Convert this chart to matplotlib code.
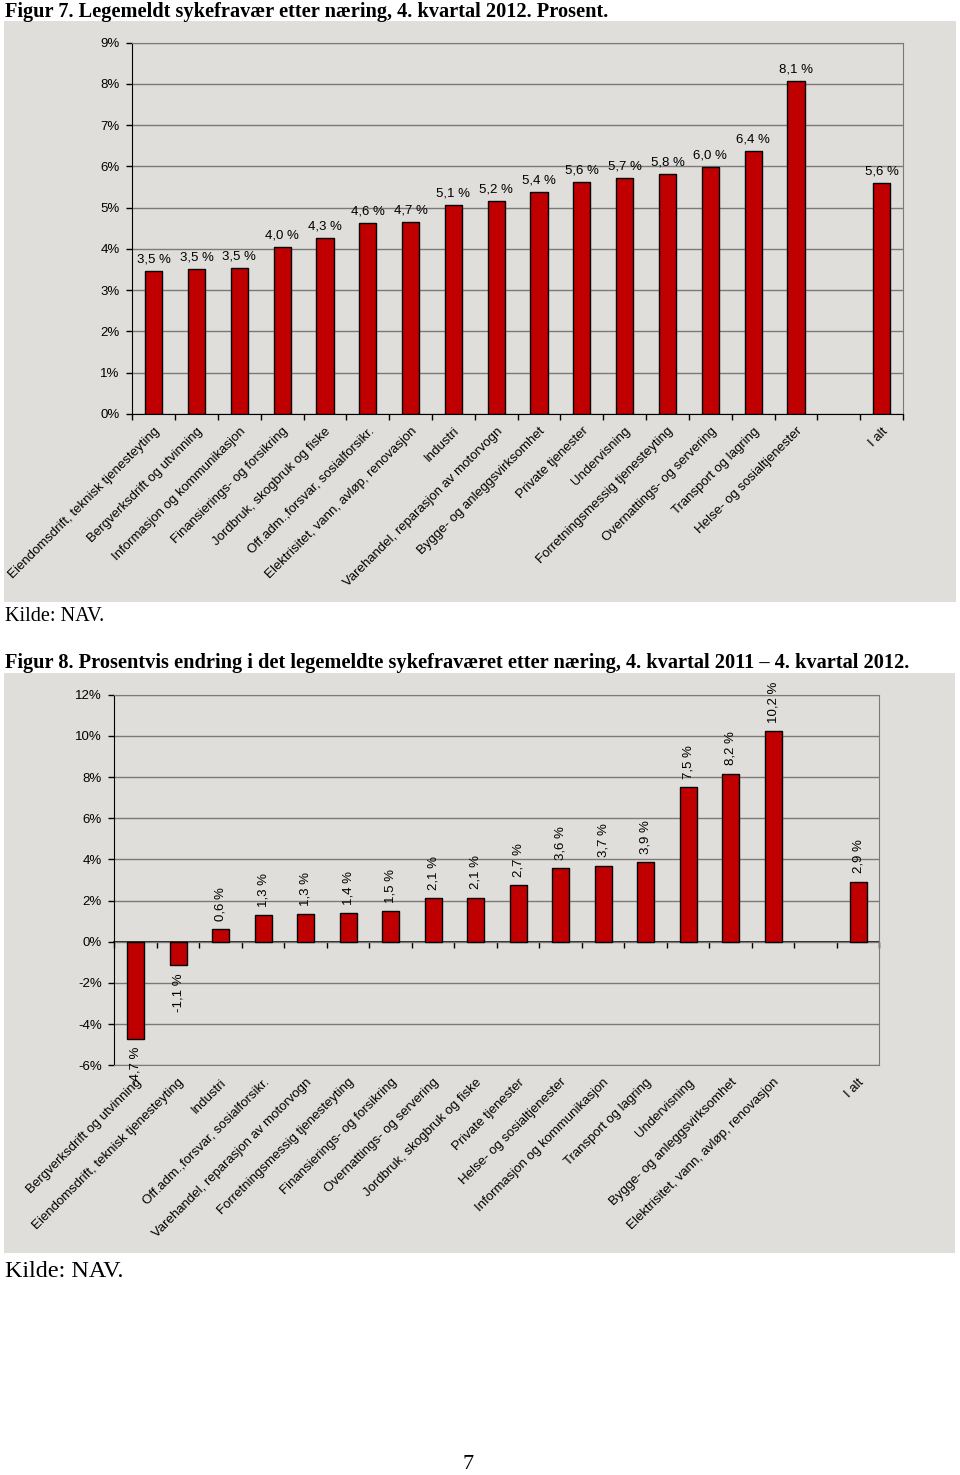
import numpy as np
import matplotlib
matplotlib.use('Agg')
import matplotlib.pyplot as plt
from matplotlib.patches import Rectangle
from matplotlib.ticker import FuncFormatter, MultipleLocator

#------------------------
# Data
#------------------------
# Figur 7: sick leave by industry, Q4 2012 (percent)
naering_7 = ["Eiendomsdrift, teknisk tjenesteyting", "Bergverksdrift og utvinning",
             "Informasjon og kommunikasjon", "Finansierings- og forsikring",
             "Jordbruk, skogbruk og fiske", "Off.adm.,forsvar, sosialforsikr.",
             "Elektrisitet, vann, avløp, renovasjon", "Industri",
             "Varehandel, reparasjon av motorvogn", "Bygge- og anleggsvirksomhet",
             "Private tjenester", "Undervisning", "Forretningsmessig tjenesteyting",
             "Overnattings- og servering", "Transport og lagring",
             "Helse- og sosialtjenester"]
fravaer_7 = [3.47, 3.52, 3.54, 4.04, 4.26, 4.64, 4.66, 5.06, 5.16, 5.39,
             5.63, 5.72, 5.81, 5.98, 6.38, 8.06]
total_7 = 5.59

# Figur 8: change in sick leave, Q4 2011 - Q4 2012 (percent)
naering_8 = ["Bergverksdrift og utvinning", "Eiendomsdrift, teknisk tjenesteyting",
             "Industri", "Off.adm.,forsvar, sosialforsikr.",
             "Varehandel, reparasjon av motorvogn", "Forretningsmessig tjenesteyting",
             "Finansierings- og forsikring", "Overnattings- og servering",
             "Jordbruk, skogbruk og fiske", "Private tjenester",
             "Helse- og sosialtjenester", "Informasjon og kommunikasjon",
             "Transport og lagring", "Undervisning", "Bygge- og anleggsvirksomhet",
             "Elektrisitet, vann, avløp, renovasjon"]
endring_8 = [-4.71, -1.12, 0.60, 1.28, 1.34, 1.38, 1.48, 2.11, 2.14, 2.74,
             3.58, 3.69, 3.86, 7.52, 8.16, 10.23]
total_8 = 2.92

total_label = "I alt"

#------------------------
# Style
#------------------------
plt.rcParams['font.family'] = ['Liberation Sans', 'DejaVu Sans']
bg = '#dfdeda'
red = '#c00000'
gridc = '#7a7a7a'
fs = 9.5
serif = ['Liberation Serif', 'DejaVu Serif']

W, H = 960, 1475
fig = plt.figure(figsize=(W / 100, H / 100), dpi=100)

def px_rect(x0, y0, x1, y1):
    # pixel box (top-left origin) -> figure fraction [left, bottom, width, height]
    return [x0 / W, 1 - y1 / H, (x1 - x0) / W, (y1 - y0) / H]

def fmt_pct(v):
    return f"{v:.1f}".replace('.', ',') + " %"

def draw_chart(ax, names, values, total, ymin, ymax, ystep, vertical_labels):
    n = len(names) + 2          # industries + empty slot + "I alt"
    pos = np.arange(len(names))
    pos_total = n - 1
    labels = names + ["", total_label]

    b1 = ax.bar(pos, values, width=0.4, color=red, edgecolor='black', linewidth=1, zorder=3)
    b2 = ax.bar([pos_total], [total], width=0.4, color=red, edgecolor='black', linewidth=1, zorder=3)

    rot = 90 if vertical_labels else 0
    for cont, vals in ((b1, values), (b2, [total])):
        ax.bar_label(cont, labels=[fmt_pct(v) for v in vals], padding=6 if vertical_labels else 4,
                     rotation=rot, fontsize=fs)

    ax.set_xlim(-0.5, n - 0.5)
    ax.set_ylim(ymin, ymax)
    ax.yaxis.set_major_locator(MultipleLocator(ystep))
    ax.yaxis.set_major_formatter(FuncFormatter(lambda v, p: f"{int(round(v))}%"))
    ax.tick_params(axis='y', length=4, width=1, labelsize=fs, pad=5)
    ax.yaxis.grid(True, color=gridc, linewidth=1)
    ax.set_axisbelow(True)

    ax.set_xticks(np.arange(n))
    ax.set_xticklabels(labels, rotation=45, ha='right', rotation_mode='anchor', fontsize=fs)
    ax.tick_params(axis='x', which='major', length=0, pad=8)

    ax.set_facecolor('none')
    ax.spines['left'].set_color('black')
    ax.spines['top'].set_color(gridc)
    ax.spines['right'].set_color(gridc)
    return n

#-------------
# Figur 7
#-------------
fig.add_artist(Rectangle((4 / W, 1 - 602 / H), 952 / W, 581 / H,
                         transform=fig.transFigure, facecolor=bg, edgecolor='none', zorder=0))
ax1 = fig.add_axes(px_rect(132.3, 42.7, 903, 414))
n1 = draw_chart(ax1, naering_7, fravaer_7, total_7, 0, 9, 1, vertical_labels=False)
ax1.set_xticks(np.arange(n1 + 1) - 0.5, minor=True)
ax1.tick_params(axis='x', which='minor', length=4, width=1, direction='out')
ax1.spines['bottom'].set_color('black')

fig.text(5 / W, 1 - 17 / H,
         "Figur 7. Legemeldt sykefravær etter næring, 4. kvartal 2012. Prosent.",
         family=serif, weight='bold', fontsize=14.7, va='baseline')
fig.text(5 / W, 1 - 621 / H, "Kilde: NAV.", family=serif, fontsize=14.6, va='baseline')

#-------------
# Figur 8
#-------------
fig.add_artist(Rectangle((4 / W, 1 - 1253 / H), 951 / W, 580 / H,
                         transform=fig.transFigure, facecolor=bg, edgecolor='none', zorder=0))
ax2 = fig.add_axes(px_rect(114.3, 694.7, 879.3, 1065.2))
n2 = draw_chart(ax2, naering_8, endring_8, total_8, -6, 12, 2, vertical_labels=True)
ax2.spines['bottom'].set_color(gridc)

# zero line with category tick marks
zero_frac = (0 - (-6)) / (12 - (-6))
sec = ax2.secondary_xaxis(zero_frac)
sec.set_xticks(np.arange(n2 + 1) - 0.5)
sec.set_xticklabels([])
sec.tick_params(length=4, width=1, direction='out', color='black')
sec.spines['bottom'].set_color('black')
sec.spines['bottom'].set_linewidth(1.2)

fig.text(5 / W, 1 - 668 / H,
         "Figur 8. Prosentvis endring i det legemeldte sykefraværet etter næring, "
         "4. kvartal 2011 – 4. kvartal 2012.",
         family=serif, weight='bold', fontsize=14.7, va='baseline')
fig.text(5 / W, 1 - 1277 / H, "Kilde: NAV.", family=serif, fontsize=17.4, va='baseline')

# page number
fig.text(468 / W, 1 - 1469 / H, "7", family=serif, fontsize=16, ha='center', va='baseline')

fig.savefig("out.png", dpi=100, facecolor='white')
plt.close(fig)
